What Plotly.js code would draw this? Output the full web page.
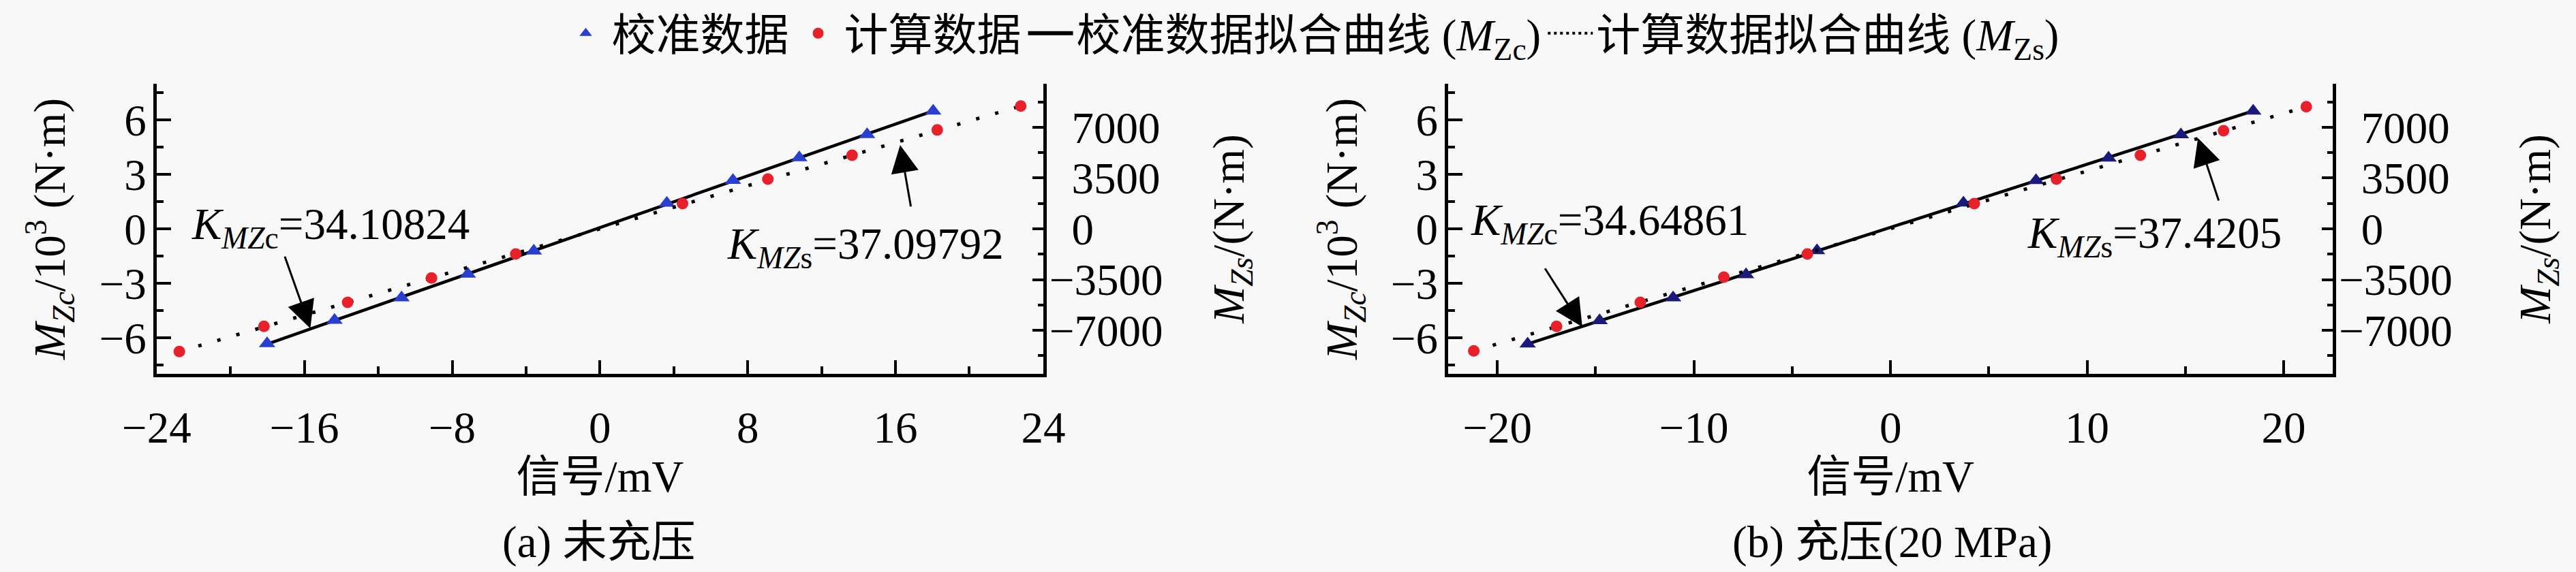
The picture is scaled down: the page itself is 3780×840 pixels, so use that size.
<!DOCTYPE html>
<html>
<head>
<meta charset="utf-8">
<script src="https://cdn.plot.ly/plotly-3.0.1.min.js"></script>
<style>
  html, body { margin: 0; padding: 0; background: #f8f8f8; }
</style>
</head>
<body>
<div id="plot"></div>
<script>
// (a) 未充压 : 校准数据 (left axis, 10^3 N·m) and 计算数据 (right axis, N·m)
const aCalX = [-18.02, -14.37, -10.74, -7.15, -3.58, 3.62, 7.2, 10.79, 14.46, 18.04]
const aCalY = [-6.33, -5.04, -3.8, -2.5, -1.22, 1.42, 2.68, 3.92, 5.2, 6.5]
const aCmpX = [-22.77, -18.19, -13.66, -9.12, -4.56, 4.47, 9.09, 13.65, 18.26, 22.78]
const aCmpY = [-8463, -6725, -5075, -3388, -1738, 1738, 3425, 5075, 6813, 8463]
const aFitCalX = [-18.02, 18.04]
const aFitCalY = [-6.36, 6.5]
const aFitCmpX = [-22.77, 22.78]
const aFitCmpY = [-8463, 8463]

// (b) 充压(20 MPa)
const bCalX = [-18.46, -14.8, -11.06, -7.35, -3.74, 3.71, 7.4, 11.09, 14.77, 18.45]
const bCalY = [-6.35, -5.06, -3.8, -2.53, -1.2, 1.43, 2.67, 3.91, 5.19, 6.5]
const bCmpX = [-21.2, -16.99, -12.73, -8.48, -4.23, 4.26, 8.44, 12.71, 16.94, 21.15]
const bCmpY = [-8413, -6725, -5075, -3338, -1738, 1738, 3425, 5075, 6763, 8413]
const bFitCalX = [-18.46, 18.45]
const bFitCalY = [-6.35, 6.5]
const bFitCmpX = [-21.2, 21.15]
const bFitCmpY = [-8413, 8413]

const rightTickVals = [-7000, -3500, 0, 3500, 7000]
const rightTickText = ["\u22127000", "\u22123500", "\u20020", "\u20023500", "\u20027000"]

const legendNames = ["校准数据", "计算数据", "校准数据拟合曲线 (<i>M</i><sub>Zc</sub>)", "计算数据拟合曲线 (<i>M</i><sub>Zs</sub>)"]
const slopes = ["34.10824", "37.09792", "34.64861", "37.4205"]

function plot(){
    const
        font = "'Liberation Serif', 'Noto Sans CJK SC', serif",
        fs = 65,
        blue = "#2a3fd0",
        navy = "#1a1a7a",
        red = "#e8202a",
        dotted = "5px,24px"

    const data = [
        {x: aFitCalX, y: aFitCalY, xaxis: "x", yaxis: "y", mode: "lines",
            line: {color: "#000", width: 4.5}, showlegend: false},
        {x: aFitCmpX, y: aFitCmpY, xaxis: "x", yaxis: "y2", mode: "lines",
            line: {color: "#000", width: 5, dash: dotted}, showlegend: false},
        {x: aCalX, y: aCalY, xaxis: "x", yaxis: "y", mode: "markers",
            marker: {symbol: "triangle-up", size: 21, color: blue}, name: legendNames[0], legendrank: 1},
        {x: aCmpX, y: aCmpY, xaxis: "x", yaxis: "y2", mode: "markers",
            marker: {symbol: "circle", size: 17, color: red}, name: legendNames[1], legendrank: 2},

        {x: bFitCalX, y: bFitCalY, xaxis: "x2", yaxis: "y3", mode: "lines",
            line: {color: "#000", width: 4.5}, showlegend: false},
        {x: bFitCmpX, y: bFitCmpY, xaxis: "x2", yaxis: "y4", mode: "lines",
            line: {color: "#000", width: 5, dash: dotted}, showlegend: false},
        {x: bCalX, y: bCalY, xaxis: "x2", yaxis: "y3", mode: "markers",
            marker: {symbol: "triangle-up", size: 21, color: navy}, showlegend: false},
        {x: bCmpX, y: bCmpY, xaxis: "x2", yaxis: "y4", mode: "markers",
            marker: {symbol: "circle", size: 17, color: red}, showlegend: false},

        // legend entries for the two fitted curves
        {x: [null], y: [null], xaxis: "x", yaxis: "y", mode: "lines",
            line: {color: "#000", width: 6}, name: legendNames[2], legendrank: 3},
        {x: [null], y: [null], xaxis: "x", yaxis: "y", mode: "lines",
            line: {color: "#000", width: 4, dash: "4px,5px"}, name: legendNames[3], legendrank: 4}
    ]

    const frame = {
        showline: true, linecolor: "#000", linewidth: 5,
        showgrid: false, zeroline: false,
        ticks: "inside", tickcolor: "#000", tickwidth: 4,
        tickfont: {family: font, size: fs, color: "#000"}
    }

    const titleFont = {family: font, size: fs, color: "#000"}
    const xTitle = {text: "信号/mV", font: titleFont, standoff: 8}
    const yLeftTitle = {text: "<i>M</i><sub><i>Zc</i></sub>/10<sup>3</sup> (N·m)", font: titleFont, standoff: 30}
    const yRightTitle = {text: "<i>M</i><sub><i>Zs</i></sub>/(N·m)", font: titleFont, standoff: 75}
    const minorTick = {ticks: "inside", tickwidth: 4, tickcolor: "#000"}

    const leftY = Object.assign({}, frame, {
        range: [-8, 8], tick0: 0, dtick: 3, ticklen: 21, ticklabelstandoff: -3,
        minor: Object.assign({tick0: 0, dtick: 1.5, ticklen: 10}, minorTick),
        title: yLeftTitle
    })
    const rightY = Object.assign({}, frame, {
        range: [-10000, 10000], tickmode: "array", tickvals: rightTickVals, ticktext: rightTickText,
        ticklen: 16, ticklabelstandoff: -9, side: "right",
        minor: Object.assign({tickmode: "linear", tick0: 0, dtick: 1750, ticklen: 8}, minorTick),
        title: yRightTitle
    })
    const topX = Object.assign({}, frame, {
        range: [-24, 24], tick0: 0, dtick: 8, ticklen: 20, side: "top", showticklabels: false,
        minor: Object.assign({tick0: 0, dtick: 4, ticklen: 11}, minorTick)
    })

    const yDom = [0.3464, 0.8536]
    const annFont = {family: font, size: fs, color: "#000"}

    function label(xref, yref, x, y, anchor, k, value){
        return {xref: xref, yref: yref, x: x, y: y, xanchor: anchor, yanchor: "middle",
            text: "<i>K</i><sub><i>MZ</i>" + k + "</sub>=" + value, showarrow: false, font: annFont}
    }
    function arrow(xref, yref, x, y, ax, ay){
        return {xref: xref, yref: yref, axref: xref, ayref: yref, x: x, y: y, ax: ax, ay: ay,
            text: "", showarrow: true, arrowhead: 2, arrowsize: 2.7, arrowwidth: 3, arrowcolor: "#000"}
    }

    const layout = {
        width: 3780, height: 840,
        margin: {l: 0, r: 0, t: 0, b: 0},
        paper_bgcolor: "#f8f8f8", plot_bgcolor: "#f8f8f8",
        font: {family: font, size: fs, color: "#000"},
        showlegend: true,
        legend: {orientation: "h", x: 0.509, xanchor: "center", y: 1.0, yanchor: "top",
            font: {family: font, size: fs, color: "#000"}, bgcolor: "rgba(0,0,0,0)", itemwidth: 66},

        xaxis: Object.assign({}, frame, {
            domain: [0.0608, 0.4050], range: [-24, 24], tick0: 0, dtick: 8, ticklen: 20,
            anchor: "y", ticklabelstandoff: 18,
            minor: Object.assign({tick0: 0, dtick: 4, ticklen: 11}, minorTick),
            title: xTitle
        }),
        xaxis3: Object.assign({}, topX, {overlaying: "x", anchor: "y"}),
        yaxis: Object.assign({}, leftY, {domain: yDom, anchor: "x"}),
        yaxis2: Object.assign({}, rightY, {overlaying: "y", anchor: "x"}),

        xaxis2: Object.assign({}, frame, {
            domain: [0.5622, 0.9056], range: [-22.5, 22.5], tick0: 0, dtick: 10, ticklen: 20,
            anchor: "y3", ticklabelstandoff: 18,
            minor: Object.assign({tick0: 0, dtick: 5, ticklen: 11}, minorTick),
            title: xTitle
        }),
        xaxis4: Object.assign({}, topX, {overlaying: "x2", anchor: "y3"}),
        yaxis3: Object.assign({}, leftY, {domain: yDom, anchor: "x2"}),
        yaxis4: Object.assign({}, rightY, {overlaying: "y3", anchor: "x2",
            title: Object.assign({}, yRightTitle, {standoff: 100})}),

        annotations: [
            label("x", "y", -22.2, 0.07, "left", "c", slopes[0]),
            arrow("x", "y", -15.68, -5.49, -17.08, -1.47),
            label("x", "y", 21.95, -1.0, "right", "s", slopes[1]),
            arrow("x", "y", 16.25, 4.62, 16.84, 1.17),

            label("x2", "y3", -21.44, 0.3, "left", "c", slopes[2]),
            arrow("x2", "y3", -15.68, -5.41, -17.61, -2.13),
            label("x2", "y3", 19.97, -0.41, "right", "s", slopes[3]),
            arrow("x2", "y3", 15.64, 5.0, 16.71, 1.5),

            {xref: "paper", yref: "paper", x: 0.2325, y: 0.052, xanchor: "center", yanchor: "middle",
                text: "(a) 未充压", showarrow: false, font: annFont},
            {xref: "paper", yref: "paper", x: 0.7344, y: 0.052, xanchor: "center", yanchor: "middle",
                text: "(b) 充压(20 MPa)", showarrow: false, font: annFont}
        ]
    }

    Plotly.newPlot("plot", data, layout, {staticPlot: true})
}

plot()
</script>
</body>
</html>
